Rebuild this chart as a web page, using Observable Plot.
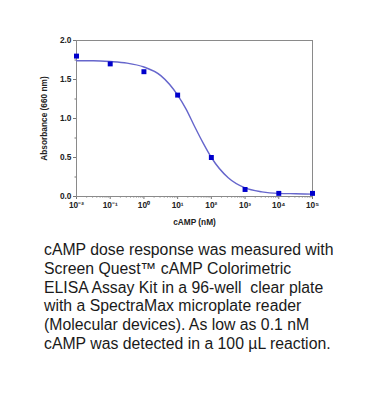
<!DOCTYPE html>
<html><head><meta charset="utf-8">
<script src="https://cdn.jsdelivr.net/npm/d3@7"></script>
<script src="https://cdn.jsdelivr.net/npm/@observablehq/plot@0.6"></script>
<style>
body{margin:0;background:#fff;width:370px;height:419px;overflow:hidden}
#cap{font-family:"Liberation Sans",Arial,sans-serif;font-size:15.8px;line-height:18.8px;color:#1a1a1a;margin:11px 0 0 44px;white-space:nowrap}
</style></head><body>
<div id="chart"></div>
<div id="cap">cAMP dose response was measured with<br>Screen Quest™ cAMP Colorimetric<br>ELISA Assay Kit in a 96-well&nbsp; clear plate<br>with a SpectraMax microplate reader<br>(Molecular devices). As low as 0.1 nM<br>cAMP was detected in a 100 µL reaction.</div>
<script>
// measured points
const doseNM = [0.01, 0.1, 1, 10, 100, 1000, 10000, 100000];
const absorbance = [1.80, 1.70, 1.60, 1.30, 0.50, 0.09, 0.04, 0.04];
// fitted curve
const curveDose = [0.01, 0.0316, 0.1, 0.316, 1, 3.16, 10, 17.8, 31.6, 56.2, 100, 316, 1000, 3162, 10000, 31623, 100000];
const curveAbs = [1.74, 1.74, 1.73, 1.71, 1.66, 1.55, 1.30, 1.12, 0.90, 0.69, 0.50, 0.24, 0.11, 0.06, 0.04, 0.035, 0.03];
// ticks
const xTicks = [0.01, 0.1, 1, 10, 100, 1000, 10000, 100000];
const xTickLabels = ["10⁻²", "10⁻¹", "10⁰", "10¹", "10²", "10³", "10⁴", "10⁵"];
const yTicks = [0, 0.5, 1.0, 1.5, 2.0];
const yMinor = [0.25, 0.75, 1.25, 1.75];

const xMinor = [];
for (let k = -2; k < 5; k++) for (let m = 2; m <= 9; m++) xMinor.push(m * Math.pow(10, k));

const points = doseNM.map((d, i) => ({x: d, y: absorbance[i]}));
const curve = curveDose.map((d, i) => ({x: d, y: curveAbs[i]}));

const chart = Plot.plot({
  width: 370,
  height: 230,
  marginLeft: 76,
  marginRight: 58,
  marginTop: 40,
  marginBottom: 34,
  style: {fontFamily: "'Liberation Sans', Arial, sans-serif", fontSize: "8.3px", fontWeight: "bold", color: "#222", background: "#fff"},
  x: {type: "log", domain: [0.01, 100000]},
  y: {domain: [0, 2]},
  marks: [
    Plot.axisX(xMinor, {tickSize: 1.5, tickFormat: () => "", label: null, stroke: "#777"}),
    Plot.axisY(yMinor, {tickSize: 1.5, tickFormat: () => "", label: null, stroke: "#777"}),
    Plot.axisX({ticks: xTicks, tickSize: 3, tickPadding: 3, stroke: "#777",
      tickFormat: d => xTickLabels[xTicks.findIndex(t => Math.abs(t - d) / t < 1e-6)],
      label: "cAMP (nM)", labelAnchor: "center", labelArrow: "none", labelOffset: 28}),
    Plot.axisY({ticks: yTicks, tickSize: 3, tickPadding: 2, stroke: "#777",
      tickFormat: d3.format(".1f"),
      label: "Absorbance (660 nm)", labelAnchor: "center", labelArrow: "none", labelOffset: 35}),
    Plot.frame({stroke: "#8a8a8a"}),
    Plot.line(curve, {x: "x", y: "y", curve: "monotone-x", stroke: "#6666cc", strokeWidth: 1.4}),
    Plot.dot(points, {x: "x", y: "y", symbol: "square", r: 2.8, fill: "#0000cc"})
  ]
});
document.getElementById("chart").appendChild(chart);
</script>
</body></html>
